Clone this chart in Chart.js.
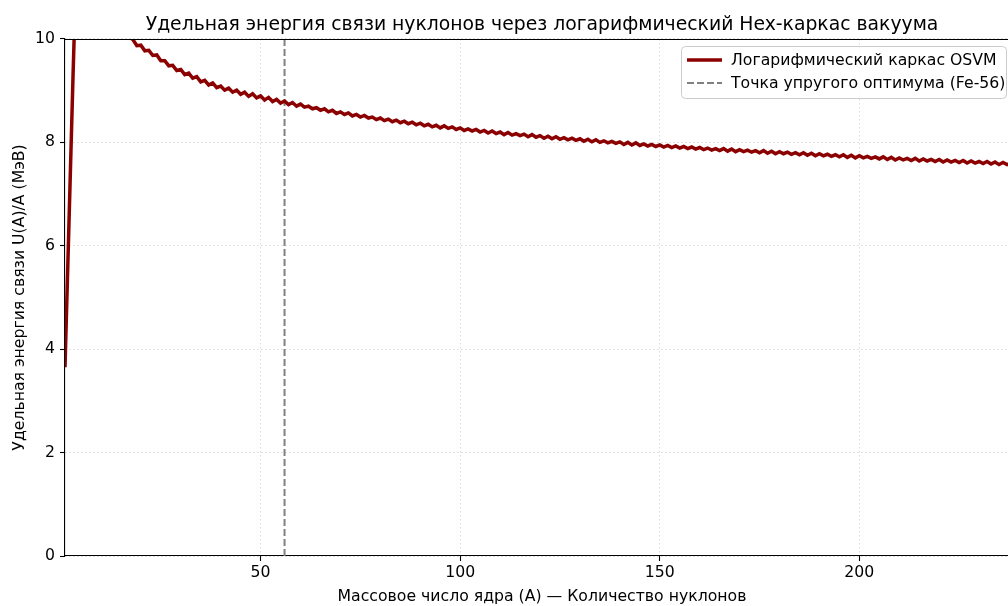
<!DOCTYPE html>
<html>
<head>
<meta charset="utf-8">
<script src="https://cdn.jsdelivr.net/npm/chart.js@4/dist/chart.umd.min.js"></script>
<style>
  html, body { margin: 0; padding: 0; width: 1008px; height: 606px; overflow: hidden; background: #fff; }
  #wrap { position: relative; width: 1030px; height: 606px; }
</style>
</head>
<body>
<div id="wrap"><canvas id="c"></canvas></div>
<script>
// ---- data ----
const chartTitle = 'Удельная энергия связи нуклонов через логарифмический Hex-каркас вакуума';
const xAxisTitle = 'Массовое число ядра (A) — Количество нуклонов';
const yAxisTitle = 'Удельная энергия связи U(A)/A (МэВ)';
const seriesLabel = 'Логарифмический каркас OSVM';
const markerLabel = 'Точка упругого оптимума (Fe-56)';
const firstMassNumber = 1;
const markerMass = 56;
const xTicks = [50, 100, 150, 200];
const yTicks = [0, 2, 4, 6, 8, 10];
// binding energy per nucleon, A = 1 .. 238
const bindingPerNucleon = [
  3.65, 6.45, 9.25, 11.90, 12.10, 12.00, 11.80, 11.60, 11.35, 11.15,
  10.95, 10.75, 10.60, 10.45, 10.30, 10.17, 10.04, 9.99, 9.87, 9.88,
  9.77, 9.78, 9.68, 9.69, 9.58, 9.58, 9.48, 9.49, 9.39, 9.41,
  9.31, 9.34, 9.24, 9.27, 9.17, 9.20, 9.11, 9.15, 9.06, 9.09,
  9.01, 9.05, 8.97, 9.01, 8.93, 8.97, 8.89, 8.94, 8.86, 8.90,
  8.82, 8.87, 8.79, 8.83, 8.76, 8.80, 8.73, 8.77, 8.70, 8.74,
  8.68, 8.70, 8.65, 8.67, 8.62, 8.65, 8.59, 8.62, 8.56, 8.59,
  8.54, 8.57, 8.51, 8.54, 8.49, 8.52, 8.47, 8.49, 8.44, 8.47,
  8.42, 8.45, 8.40, 8.43, 8.38, 8.41, 8.36, 8.39, 8.34, 8.37,
  8.32, 8.35, 8.30, 8.33, 8.28, 8.32, 8.27, 8.30, 8.25, 8.28,
  8.23, 8.26, 8.22, 8.25, 8.20, 8.23, 8.18, 8.22, 8.17, 8.20,
  8.15, 8.19, 8.14, 8.17, 8.13, 8.16, 8.11, 8.15, 8.10, 8.13,
  8.08, 8.12, 8.07, 8.11, 8.06, 8.09, 8.05, 8.08, 8.04, 8.07,
  8.02, 8.06, 8.01, 8.05, 8.00, 8.03, 7.99, 8.02, 7.98, 8.01,
  7.96, 8.00, 7.95, 7.99, 7.94, 7.97, 7.93, 7.96, 7.92, 7.95,
  7.91, 7.94, 7.90, 7.93, 7.89, 7.92, 7.88, 7.91, 7.87, 7.90,
  7.86, 7.89, 7.85, 7.88, 7.84, 7.88, 7.83, 7.87, 7.82, 7.86,
  7.82, 7.85, 7.81, 7.84, 7.80, 7.84, 7.79, 7.83, 7.78, 7.82,
  7.78, 7.81, 7.77, 7.80, 7.76, 7.80, 7.75, 7.79, 7.74, 7.78,
  7.74, 7.77, 7.73, 7.76, 7.72, 7.76, 7.71, 7.75, 7.70, 7.74,
  7.70, 7.73, 7.69, 7.72, 7.68, 7.72, 7.67, 7.71, 7.66, 7.70,
  7.66, 7.69, 7.65, 7.69, 7.64, 7.68, 7.64, 7.67, 7.63, 7.67,
  7.62, 7.66, 7.62, 7.65, 7.61, 7.65, 7.60, 7.64, 7.60, 7.63,
  7.59, 7.63, 7.58, 7.62, 7.57, 7.61, 7.57, 7.60
];
const xRange = [1, 240];
const yRange = [0, 10];

// ---- build ----
const mainPoints = bindingPerNucleon.map((v, i) => ({ x: firstMassNumber + i, y: v }));
const markerPoints = [{ x: markerMass, y: yRange[0] }, { x: markerMass, y: yRange[1] }];

const FONT = '"DejaVu Sans", "Liberation Sans", sans-serif';
const LEFT = 65, BOTTOM_H = 50;
const TXT = 15.7, TITLE = 18.8;

const frameLegend = {
  id: 'frameLegend',
  afterDraw(chart) {
    const { ctx, chartArea: a } = chart;
    ctx.save();
    // top spine
    ctx.strokeStyle = '#000';
    ctx.lineWidth = 1.1;
    ctx.beginPath();
    ctx.moveTo(a.left, a.top + 0.5);
    ctx.lineTo(a.right, a.top + 0.5);
    ctx.stroke();
    // legend box
    const bx = 681.5, by = 46.5, bw = 325, bh = 52, r = 4;
    ctx.globalAlpha = 0.8;
    ctx.fillStyle = '#fff';
    ctx.beginPath();
    ctx.roundRect(bx, by, bw, bh, r);
    ctx.fill();
    ctx.globalAlpha = 1;
    ctx.strokeStyle = '#cccccc';
    ctx.lineWidth = 1;
    ctx.stroke();
    const ds = chart.data.datasets;
    const rows = [60, 83];
    ds.forEach((d, i) => {
      const y = rows[i];
      ctx.strokeStyle = d.borderColor;
      ctx.lineWidth = d.borderWidth;
      ctx.setLineDash(d.borderDash || []);
      ctx.beginPath();
      ctx.moveTo(687, y);
      ctx.lineTo(722, y);
      ctx.stroke();
      ctx.setLineDash([]);
      ctx.fillStyle = '#000';
      ctx.font = TXT + 'px ' + FONT;
      ctx.textBaseline = 'middle';
      ctx.fillText(d.label, 731, y + 1);
    });
    ctx.restore();
  }
};

new Chart(document.getElementById('c'), {
  type: 'line',
  data: {
    datasets: [
      {
        label: seriesLabel,
        data: mainPoints,
        borderColor: '#8b0000',
        borderWidth: 3.5,
        pointRadius: 0,
        tension: 0,
        clip: 0,
        order: 1
      },
      {
        label: markerLabel,
        data: markerPoints,
        borderColor: '#808080',
        borderWidth: 2,
        borderDash: [7, 3],
        pointRadius: 0,
        clip: 0,
        order: 2
      }
    ]
  },
  options: {
    responsive: true,
    maintainAspectRatio: false,
    animation: false,
    devicePixelRatio: 1,
    layout: { padding: { left: 0, right: 11, top: 0, bottom: 0 } },
    plugins: {
      legend: { display: false },
      tooltip: { enabled: false },
      title: {
        display: true,
        fullSize: false,
        text: chartTitle,
        color: '#000',
        font: { family: FONT, size: TITLE, weight: 'normal', lineHeight: 1.2 },
        padding: { top: 13.5, bottom: 2.9 }
      }
    },
    scales: {
      x: {
        type: 'linear',
        min: xRange[0],
        max: xRange[1],
        afterBuildTicks: s => { s.ticks = xTicks.map(v => ({ value: v })); },
        afterFit: s => { s.height = BOTTOM_H; },
        ticks: { color: '#000', font: { family: FONT, size: TXT }, padding: 3, maxRotation: 0, autoSkip: false },
        grid: { color: '#d9d9d9', lineWidth: 1, tickLength: 5, tickColor: '#000', tickWidth: 1.1 },
        border: { display: true, color: '#000', width: 1.1, dash: [1.5, 2.5] },
        title: { display: true, text: xAxisTitle, color: '#000', font: { family: FONT, size: TXT }, padding: { top: 0, bottom: 0 } }
      },
      y: {
        type: 'linear',
        min: yRange[0],
        max: yRange[1],
        afterBuildTicks: s => { s.ticks = yTicks.map(v => ({ value: v })); },
        afterFit: s => { s.width = LEFT; },
        ticks: { color: '#000', font: { family: FONT, size: TXT }, padding: 5 },
        grid: { color: '#d9d9d9', lineWidth: 1, tickLength: 5, tickColor: '#000', tickWidth: 1.1 },
        border: { display: true, color: '#000', width: 1.1, dash: [1.5, 2.5] },
        title: { display: true, text: yAxisTitle, color: '#000', font: { family: FONT, size: TXT }, padding: { top: 11, bottom: 0 } }
      }
    }
  },
  plugins: [frameLegend]
});
</script>
</body>
</html>
